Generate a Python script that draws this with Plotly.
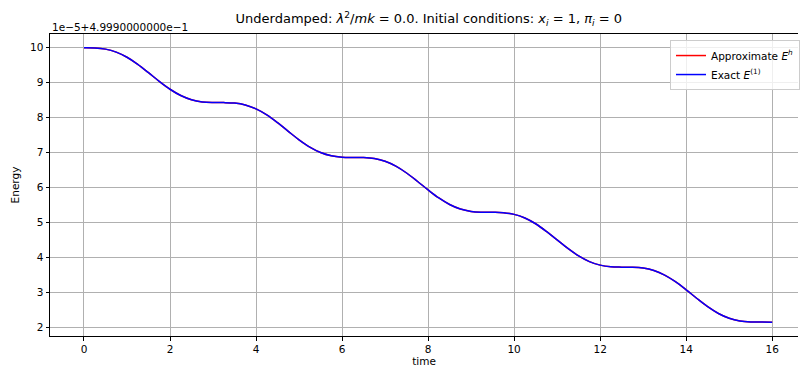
import plotly.graph_objects as go

time = [0.0, 0.25, 0.5, 0.75, 1.0, 1.25, 1.5, 1.75, 2.0, 2.25, 2.5, 2.75, 3.0, 3.25, 3.5, 3.75,
        4.0, 4.25, 4.5, 4.75, 5.0, 5.25, 5.5, 5.75, 6.0, 6.25, 6.5, 6.75, 7.0, 7.25, 7.5, 7.75,
        8.0, 8.25, 8.5, 8.75, 9.0, 9.25, 9.5, 9.75, 10.0, 10.25, 10.5, 10.75, 11.0, 11.25, 11.5, 11.75,
        12.0, 12.25, 12.5, 12.75, 13.0, 13.25, 13.5, 13.75, 14.0, 14.25, 14.5, 14.75, 15.0, 15.25, 15.5, 15.75, 16.0]

# Energy shown as (E - 0.4999) / 1e-5
exact_energy = [10.000, 9.995, 9.960, 9.874, 9.727, 9.525, 9.285, 9.037, 8.811, 8.631, 8.510, 8.449, 8.430, 8.429, 8.414, 8.360,
                8.247, 8.075, 7.853, 7.606, 7.364, 7.155, 7.000, 6.906, 6.866, 6.858, 6.855, 6.826, 6.748, 6.609, 6.413, 6.177,
                5.928, 5.697, 5.510, 5.380, 5.312, 5.290, 5.287, 5.276, 5.228, 5.124, 4.959, 4.742, 4.498, 4.253, 4.038, 3.875,
                3.774, 3.727, 3.717, 3.715, 3.691, 3.620, 3.489, 3.300, 3.068, 2.819, 2.584, 2.390, 2.253, 2.177, 2.149, 2.146, 2.138]
approx_energy = list(exact_energy)

x_ticks = [0, 2, 4, 6, 8, 10, 12, 14, 16]
y_ticks = [2, 3, 4, 5, 6, 7, 8, 9, 10]

FONT = "DejaVu Sans"

fig = go.Figure()
fig.add_trace(go.Scatter(x=time, y=approx_energy, mode="lines", line=dict(color="#ff0000", width=1.5, shape="spline"),
                         name="Approximate <i>E</i><sup><i>h</i></sup>"))
fig.add_trace(go.Scatter(x=time, y=exact_energy, mode="lines", line=dict(color="#0000ff", width=1.5, shape="spline"),
                         name="Exact <i>E</i><sup>(1)</sup>"))

axis_common = dict(showgrid=True, gridcolor="#b0b0b0", gridwidth=1, showline=True, linecolor="#000000", linewidth=1,
                   ticks="outside", ticklen=3.5, tickcolor="#000000", tickwidth=1, zeroline=False,
                   tickfont=dict(family=FONT, size=10.5, color="#000000"))

fig.update_layout(
    width=800, height=368,
    margin=dict(l=50, r=0, t=34, b=32),
    paper_bgcolor="white", plot_bgcolor="white",
    font=dict(family=FONT, size=10.5, color="#000000"),
    title=dict(text="Underdamped: <i>λ</i><sup>2</sup>/<i>mk</i> = 0.0. Initial conditions: <i>x<sub>i</sub></i> = 1, <i>π<sub>i</sub></i> = 0",
               x=0.536, xanchor="center", y=0.962, yanchor="top", font=dict(family=FONT, size=13)),
    xaxis=dict(range=[-0.79, 16.6], tickvals=x_ticks, mirror=True,
               title=dict(text="time", standoff=2, font=dict(size=10.5)), **axis_common),
    yaxis=dict(range=[1.745, 10.393], tickvals=y_ticks, mirror=False,
               title=dict(text="Energy", standoff=8, font=dict(size=10.5)), **axis_common),
    legend=dict(x=0.829, xanchor="left", y=0.98, yanchor="top", bgcolor="rgba(255,255,255,0.8)",
                bordercolor="#cccccc", borderwidth=1, font=dict(family=FONT, size=10.5), tracegroupgap=0),
    showlegend=True,
)

fig.add_annotation(text="1e−5+4.9990000000e−1", xref="paper", yref="paper", x=0, y=1.0, xanchor="left", yanchor="bottom",
                   yshift=-1, showarrow=False, font=dict(family=FONT, size=10.5))

fig.write_html("out.html")
